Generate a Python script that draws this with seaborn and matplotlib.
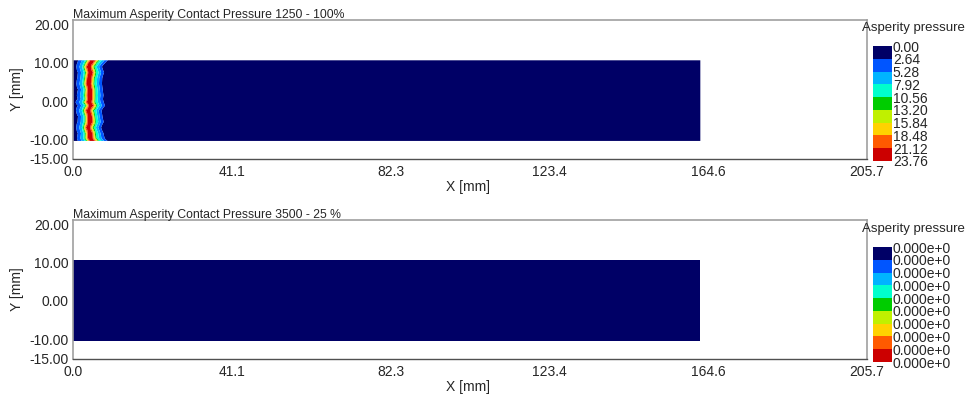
import numpy as np
import matplotlib
matplotlib.use("Agg")
import matplotlib.pyplot as plt
from matplotlib.colors import ListedColormap, BoundaryNorm
import seaborn as sns

sns.set_style("white")
plt.rcParams["font.family"] = ["Liberation Sans", "DejaVu Sans"]

# ---- data -------------------------------------------------------------
titles = ["Maximum Asperity Contact Pressure 1250 - 100%",
          "Maximum Asperity Contact Pressure 3500 - 25 %"]
legend_title = "Asperity pressure"

# contour levels (colour-bar labels) for each run
levels_1250 = [0.00, 2.64, 5.28, 7.92, 10.56, 13.20, 15.84, 18.48, 21.12, 23.76]
levels_3500 = [0.0, 0.0, 0.0, 0.0, 0.0, 0.0, 0.0, 0.0, 0.0, 0.0]

level_colors = ["#000066", "#0055ff", "#00b4ff", "#00ffcc", "#00cc00",
                "#c0f000", "#ffd200", "#ff5a00", "#cc0000"]

x_ticks = [0.0, 41.1, 82.3, 123.4, 164.6, 205.7]
y_ticks = [20.0, 10.0, 0.0, -10.0, -15.0]

# contact strip footprint [mm]
strip_x = [0.0, 162.5]
strip_y = [-10.5, 10.7]

# pressure profile across the contact band near the inlet (1250 run)
band_x = [0.0, 1.0, 1.8, 2.6, 2.9, 3.2, 3.4, 3.6, 4.2, 4.7, 4.9, 5.2,
          5.4, 5.6, 6.2, 6.8, 7.6, 8.1, 8.8, 162.5]
band_p = [1.5, 2.7, 5.4, 8.5, 12.0, 15.5, 19.0, 21.6, 23.7, 21.6, 18.6,
          15.6, 12.6, 10.5, 8.0, 5.3, 2.6, 0.5, 0.0, 0.0]

# row positions across the strip, with the local band offset and width factor
row_y = [-10.5, -9.8, -8.5, -7.0, -5.5, -4.0, -2.5, -1.2, -0.3, 0.5,
         1.5, 3.0, 4.5, 6.0, 7.5, 9.0, 10.0, 10.7]
row_shift = [0.2, 0.0, 0.3, -0.1, 0.2, 0.4, -0.2, 0.3, -0.4, 0.3,
             0.0, 0.4, -0.1, 0.2, 0.3, -0.1, 0.1, 0.3]
row_width = [1.15, 1.08, 1.0, 0.97, 1.02, 0.95, 1.0, 1.05, 1.1, 0.98,
             1.04, 0.96, 1.0, 0.97, 1.02, 1.0, 1.08, 1.15]

# ---- field construction -------------------------------------------------
x_grid = np.concatenate([np.linspace(0.0, 12.0, 241), np.linspace(12.5, strip_x[1], 50)])
yy = np.array(row_y)
bx = np.array(band_x)
bp = np.array(band_p)

field_1250 = np.array([np.interp((x_grid - s) / w, bx, bp)
                       for s, w in zip(row_shift, row_width)])
field_3500 = np.zeros_like(field_1250)

cmap = ListedColormap(level_colors)
norm = BoundaryNorm(levels_1250, cmap.N)

fig = plt.figure(figsize=(9.70, 3.99), dpi=100)

panels = [
    (titles[0], field_1250, levels_1250, "{:.2f}", 0.6015, 0.5965),
    (titles[1], field_3500, levels_3500, "{:.3e}", 0.1003, 0.0927),
]

for title, field, lab_levels, fmt, ax_bottom, cb_bottom in panels:
    ax = fig.add_axes([0.0753, ax_bottom, 0.8186, 0.3484])
    ax.contourf(x_grid, yy, field, levels=levels_1250, cmap=cmap, norm=norm,
                extend="neither", antialiased=True)
    ax.set_xlim(0.0, 205.7)
    ax.set_ylim(-15.25, 21.3)
    ax.set_xticks(x_ticks)
    ax.set_xticklabels([f"{v:.1f}" for v in x_ticks])
    ax.set_yticks(y_ticks)
    ax.set_yticklabels([f"{v:.2f}" for v in y_ticks])
    ax.tick_params(axis="x", direction="in", length=4, width=0.8, color="#404040",
                   labelsize=10, pad=4)
    ax.tick_params(axis="y", length=0, labelsize=10, pad=3)
    for side in ["left", "top", "right"]:
        ax.spines[side].set_color("#a0a0a0")
        ax.spines[side].set_linewidth(1.2)
    ax.spines["bottom"].set_color("#505050")
    ax.spines["bottom"].set_linewidth(1.0)
    ax.set_xlabel("X [mm]", fontsize=10)
    ax.xaxis.set_label_coords(0.497, -0.15)
    ax.set_ylabel("Y [mm]", fontsize=10, labelpad=4)
    ax.set_title(title, loc="left", fontsize=8.8, pad=1.5)

    # colour legend
    cax = fig.add_axes([0.8995, cb_bottom, 0.0196, 0.288])
    cb = fig.colorbar(plt.cm.ScalarMappable(norm=norm, cmap=cmap), cax=cax,
                      boundaries=levels_1250, ticks=levels_1250, spacing="uniform")
    cb.outline.set_visible(False)
    cax.invert_yaxis()
    cb.set_ticklabels([fmt.format(v).replace("e+00", "e+0") for v in lab_levels])
    cax.tick_params(length=0, labelsize=10, pad=1)
    fig.text(0.8887, cb_bottom + 0.288 + 0.045, legend_title, fontsize=9.5,
             ha="left", va="center")

fig.savefig("out.png", dpi=100)
